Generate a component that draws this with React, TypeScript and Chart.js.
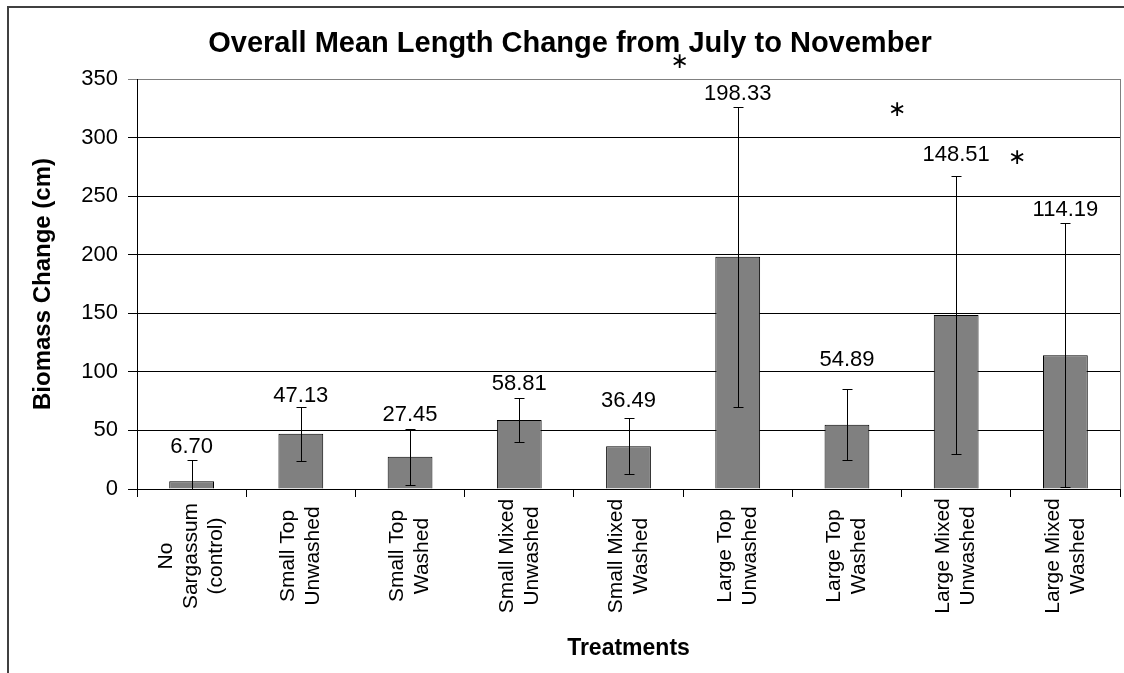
import React, { useEffect, useRef } from "react";
import { Chart, registerables } from "chart.js";

Chart.register(...registerables);

const categories: string[][] = [
  ["No", "Sargassum", "(control)"],
  ["Small Top", "Unwashed"],
  ["Small Top", "Washed"],
  ["Small Mixed", "Unwashed"],
  ["Small Mixed", "Washed"],
  ["Large Top", "Unwashed"],
  ["Large Top", "Washed"],
  ["Large Mixed", "Unwashed"],
  ["Large Mixed", "Washed"],
];
const means = [6.7, 47.13, 27.45, 58.81, 36.49, 198.33, 54.89, 148.51, 114.19];
const errors = [18.3, 23, 24, 18.5, 24, 128, 30.5, 119, 112.5];
const labelLift = [7, 5, 8, 8, 11, 7, 23, 15, 7];
const asterisks = [
  { x: 4.47, y: 364.5 },
  { x: 6.46, y: 323.5 },
  { x: 7.56, y: 282.6 },
];
const yMin = 0;
const yMax = 350;
const yStep = 50;
const title = "Overall Mean Length Change from July to November";
const yTitle = "Biomass Change (cm)";
const xTitle = "Treatments";

const FONT = "'Liberation Sans', Arial, sans-serif";
const W = 1124;
const H = 673;

const overlay = {
  id: "overlay",
  afterDatasetsDraw(chart: any) {
    const { ctx, chartArea } = chart;
    const xs = chart.scales.x;
    const ys = chart.scales.y;
    ctx.save();
    ctx.beginPath();
    ctx.rect(chartArea.left, chartArea.top, chartArea.right - chartArea.left, chartArea.bottom - chartArea.top + 0.5);
    ctx.clip();
    ctx.strokeStyle = "#000";
    ctx.lineWidth = 1;
    means.forEach((m, i) => {
      const x = Math.round(xs.getPixelForValue(i)) + 0.5;
      const yT = Math.round(ys.getPixelForValue(m + errors[i])) + 0.5;
      const yB = Math.round(ys.getPixelForValue(m - errors[i])) + 0.5;
      ctx.beginPath();
      ctx.moveTo(x, yT);
      ctx.lineTo(x, yB);
      ctx.moveTo(x - 5, yT);
      ctx.lineTo(x + 5, yT);
      ctx.moveTo(x - 5, yB);
      ctx.lineTo(x + 5, yB);
      ctx.stroke();
    });
    ctx.restore();
  },
  afterDraw(chart: any) {
    const { ctx, chartArea } = chart;
    const xs = chart.scales.x;
    const ys = chart.scales.y;
    ctx.save();
    // outer frame
    ctx.strokeStyle = "#404040";
    ctx.lineWidth = 2;
    ctx.beginPath();
    ctx.moveTo(8, H);
    ctx.lineTo(8, 7);
    ctx.lineTo(W, 7);
    ctx.stroke();
    // plot area right border
    ctx.strokeStyle = "#808080";
    ctx.lineWidth = 1;
    ctx.beginPath();
    ctx.moveTo(Math.round(chartArea.right) + 0.5, chartArea.top);
    ctx.lineTo(Math.round(chartArea.right) + 0.5, chartArea.bottom);
    ctx.stroke();

    ctx.fillStyle = "#000";
    // value labels
    ctx.font = `22px ${FONT}`;
    ctx.textAlign = "center";
    ctx.textBaseline = "alphabetic";
    means.forEach((m, i) => {
      const x = xs.getPixelForValue(i);
      const yT = ys.getPixelForValue(m + errors[i]);
      ctx.fillText(m.toFixed(2), x, yT - labelLift[i]);
    });
    // asterisks
    ctx.font = `22px 'DejaVu Sans', sans-serif`;
    ctx.textBaseline = "middle";
    asterisks.forEach((a) => {
      ctx.fillText("\u2217", xs.getPixelForValue(a.x), ys.getPixelForValue(a.y));
    });
    // title
    ctx.font = `bold 29px ${FONT}`;
    ctx.textBaseline = "alphabetic";
    ctx.fillText(title, 570, 52);
    // x title
    ctx.font = `bold 23px ${FONT}`;
    ctx.fillText(xTitle, (chartArea.left + chartArea.right) / 2, 655);
    // y title
    ctx.save();
    ctx.translate(43, (chartArea.top + chartArea.bottom) / 2);
    ctx.rotate(-Math.PI / 2);
    ctx.font = `bold 24px ${FONT}`;
    ctx.textBaseline = "middle";
    ctx.fillText(yTitle, 0, 0);
    ctx.restore();
    // category labels
    ctx.font = `21px ${FONT}`;
    ctx.textBaseline = "middle";
    categories.forEach((lines, i) => {
      const x = xs.getPixelForValue(i);
      ctx.save();
      ctx.translate(x, 556);
      ctx.rotate(-Math.PI / 2);
      const n = lines.length;
      lines.forEach((ln, k) => {
        ctx.fillText(ln, 0, (k - (n - 1) / 2) * 25);
      });
      ctx.restore();
    });
    ctx.restore();
  },
};

export default function App() {
  const ref = useRef<HTMLCanvasElement>(null);
  useEffect(() => {
    if (!ref.current) return;
    const chart = new Chart(ref.current, {
      type: "bar",
      data: {
        labels: categories,
        datasets: [
          {
            data: means,
            backgroundColor: "#808080",
            borderColor: "#000",
            borderWidth: 1,
            barPercentage: 0.41,
            categoryPercentage: 1,
          },
        ],
      },
      options: {
        responsive: false,
        animation: false,
        devicePixelRatio: 1,
        layout: { padding: { top: 79, right: 4, left: 0, bottom: 0 } },
        plugins: { legend: { display: false }, tooltip: { enabled: false }, title: { display: false } },
        scales: {
          x: {
            ticks: { display: false },
            grid: { drawOnChartArea: false, drawTicks: true, tickLength: 8, color: "#000" },
            border: { color: "#000", width: 1 },
            afterFit: (s: any) => {
              s.height = H - 489;
            },
          },
          y: {
            min: yMin,
            max: yMax,
            ticks: { stepSize: yStep, color: "#000", font: { size: 22, family: FONT }, padding: 10 },
            grid: {
              color: (c: any) => (c.tick && c.tick.value === yMax ? "#808080" : "#000"),
              tickLength: 9,
            },
            border: { color: "#000", width: 1 },
            afterFit: (s: any) => {
              s.width = 137;
            },
          },
        },
      },
      plugins: [overlay],
    } as any);
    return () => chart.destroy();
  }, []);
  return (
    <div style={{ position: "absolute", left: 0, top: 0, width: W, height: H, background: "#fff" }}>
      <canvas ref={ref} width={W} height={H} style={{ display: "block" }} />
    </div>
  );
}
